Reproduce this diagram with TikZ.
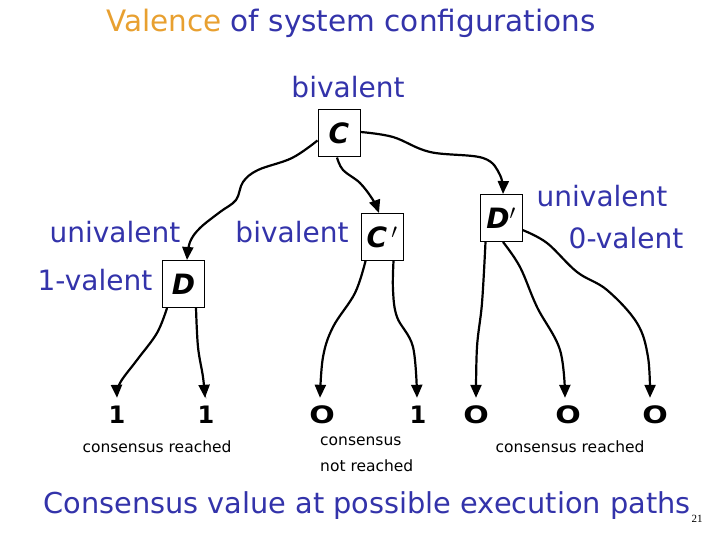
\documentclass[tikz,border=0pt]{standalone}
\usepackage{fontspec}
\setmainfont{DejaVu Sans}
\newfontfamily\pagenumfont{Liberation Serif}
\usetikzlibrary{arrows.meta}
\definecolor{slblue}{HTML}{3333AA}
\definecolor{slorange}{HTML}{E8A030}
\tikzset{
  blue label/.style={text=slblue, font=\fontsize{28}{34}\selectfont, inner sep=0pt, anchor=base},
  big label/.style={blue label, font=\fontsize{29.5}{34}\selectfont},
  state/.style={draw, line width=1pt, minimum width=42pt, minimum height=47pt, inner sep=0pt,
     font=\bfseries\itshape\fontsize{28}{32}\selectfont},
  leaf/.style={font=\bfseries\fontsize{24}{28}\selectfont, inner sep=0pt, text height=17pt, text depth=0pt, anchor=base},
  small label/.style={font=\fontsize{15.5}{18}\selectfont, inner sep=0pt, anchor=base},
  conn/.style={line width=2.2pt, -{Triangle[width=11pt,length=13pt]}},
}
\newcommand{\wideO}{\scalebox{1.25}[1]{O}}
\begin{document}
\begin{tikzpicture}[x=1pt,y=-1pt]
\useasboundingbox (0,0) rectangle (720,540);
% titles
\node[big label] (title) at (351,32) {\textcolor{slorange}{Valence} of system configurations};
\node[blue label] (bivtop) at (348,98) {bivalent};
\node[blue label] (univL) at (115,243) {univalent};
\node[blue label] (oneval) at (95,290) {1-valent};
\node[blue label] (bivmid) at (292,243) {bivalent};
\node[blue label] (univR) at (602,207) {univalent};
\node[blue label] (zeroval) at (626,248) {0-valent};
\node[blue label, font=\fontsize{28.8}{34}\selectfont] (bottom) at (367,513) {Consensus value at possible execution paths};
\node[inner sep=0pt, anchor=base, font=\pagenumfont\fontsize{11}{13}\selectfont] (pnum) at (697,522) {21};
% states
\node[state] (C) at (339,133.5) {C};
\node[state] (D) at (183.5,284) {D};
\node[state] (Cp) at (382,237) {C$\,'$};
\node[state] (Dp) at (501,218) {D$'$};
% leaves
\node[leaf] (l1) at (117,423) {1};
\node[leaf] (l2) at (206,423) {1};
\node[leaf] (l3) at (322,423) {\wideO};
\node[leaf] (l4) at (418,423) {1};
\node[leaf] (l5) at (476,423) {\wideO};
\node[leaf] (l6) at (568,423) {\wideO};
\node[leaf] (l7) at (655,423) {\wideO};
% small labels
\node[small label] (cr1) at (157,452) {consensus reached};
\node[small label, anchor=base west] (cn1) at (320,445) {consensus};
\node[small label, anchor=base west] (cn2) at (320,471) {not reached};
\node[small label] (cr2) at (570,452) {consensus reached};
% connectors
\draw[conn] plot[smooth, tension=0.6] coordinates {([yshift=-7pt]C.west) (292,158) (258,170) (243,182) (236,200) (220,212) (200,228) (190,242) ([xshift=3.5pt]D.north)};
\draw[conn] plot[smooth, tension=0.6] coordinates {([xshift=-2pt]C.south) (343,170) (360,183) (373,200) ([xshift=-3pt]Cp.north)};
\draw[conn] plot[smooth, tension=0.6] coordinates {([yshift=1.5pt]C.east) (393,137) (430,152) (483,158) (500,175) ([xshift=2pt]Dp.north)};
\draw[conn] plot[smooth, tension=0.6] coordinates {([xshift=5pt]D.south west) (157,333) (137,360) (120,383) ([yshift=8pt]l1.north)};
\draw[conn] plot[smooth, tension=0.6] coordinates {([xshift=-9pt]D.south east) (198,347) (203,377) ([xshift=-1pt,yshift=8pt]l2.north)};
\draw[conn] plot[smooth, tension=0.6] coordinates {([xshift=5pt]Cp.south west) (355,293) (333,327) (323,357) ([xshift=-2pt,yshift=8pt]l3.north)};
\draw[conn] plot[smooth, tension=0.6] coordinates {([xshift=-10pt]Cp.south east) (393,290) (397,317) (413,347) ([xshift=-1pt,yshift=8pt]l4.north)};
\draw[conn] plot[smooth, tension=0.6] coordinates {([xshift=6pt]Dp.south west) (482,303) (477,347) ([yshift=8pt]l5.north)};
\draw[conn] plot[smooth, tension=0.6] coordinates {([xshift=2pt]Dp.south) (520,267) (537,307) (560,350) ([xshift=-3pt,yshift=8pt]l6.north)};
\draw[conn] plot[smooth, tension=0.6] coordinates {([yshift=-12pt]Dp.east) (547,243) (577,272) (607,290) (637,323) (648,357) ([xshift=-5pt,yshift=8pt]l7.north)};
\end{tikzpicture}
\end{document}
